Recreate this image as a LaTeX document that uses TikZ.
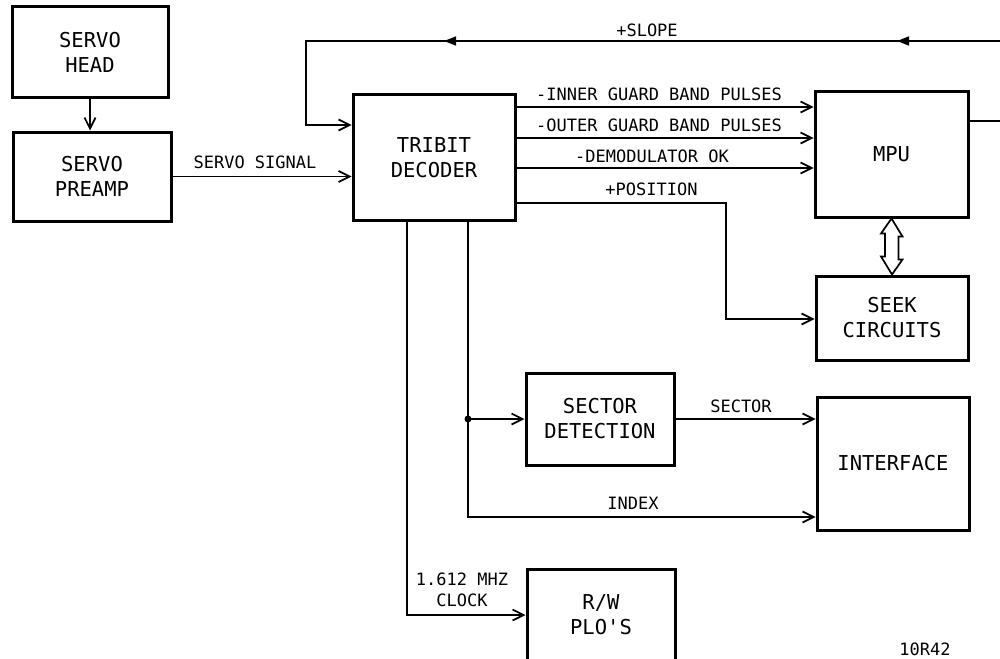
\documentclass[tikz,border=0pt]{standalone}
\usepackage{fontspec}
\setmonofont{DejaVu Sans Mono}
\usetikzlibrary{arrows.meta,decorations.markings,calc}
\newcommand\bxfont{\ttfamily\fontsize{20.5}{25}\selectfont}
\newcommand\lbfont{\ttfamily\fontsize{17}{21}\selectfont}
\begin{document}
\begin{tikzpicture}[x=1pt,y=-1pt,
  box/.style={draw, line width=3pt, align=center, font=\bxfont, inner sep=0pt},
  conn/.style={line width=1.7pt, -{Straight Barb[length=11pt,width=11pt,line width=1.7pt]}},
  plain/.style={line width=1.7pt},
  lbl/.style={font=\lbfont, inner sep=0pt, align=center},
  dbl/.style={line width=1.7pt, fill=white, line join=miter}]
\useasboundingbox (0,0) rectangle (1000,658);
% boxes
\node[box, minimum width=156pt, minimum height=91pt] (head) at (90,52.5) {SERVO\\HEAD};
\node[box, minimum width=158pt, minimum height=89pt] (preamp) at (92,176.5) {SERVO\\PREAMP};
\node[box, minimum width=162pt, minimum height=125pt] (tribit) at (434,157.5) {TRIBIT\\DECODER};
\node[box, minimum width=153pt, minimum height=125pt] (mpu) at (891.5,154.5) {MPU};
\node[box, minimum width=152pt, minimum height=84pt] (seek) at (892,318) {SEEK\\CIRCUITS};
\node[box, minimum width=148pt, minimum height=92pt] (sector) at (600,419) {SECTOR\\DETECTION};
\node[box, minimum width=152pt, minimum height=133pt] (interface) at (893,463.5) {INTERFACE};
\node[box, minimum width=148pt, minimum height=92pt] (rw) at (601,615) {R/W\\PLO'S};
% helper coordinates
\coordinate (y107) at (0,107);
\coordinate (y138) at (0,138);
\coordinate (y168) at (0,168);
\coordinate (y203) at (0,203);
\coordinate (y319) at (0,319);
\coordinate (y125) at (0,125);
\coordinate (y517) at (0,517);
\coordinate (y615) at (0,615);
\coordinate (y121) at (0,121);
\coordinate (posx) at (726,0);
\coordinate (bx1) at (407,0);
\coordinate (bx2) at (468,0);
\coordinate (slopeR) at (1000,41);
\coordinate (loopTL) at (306,41);
\coordinate (mpuR) at (1000,121);
% connectors
\draw[conn] (head.south) -- (head.south |- preamp.north);
\draw[conn] (preamp.east) -- (preamp.east -| tribit.west);
\draw[conn] (tribit.east |- y107) -- (mpu.west |- y107);
\draw[conn] (tribit.east |- y138) -- (mpu.west |- y138);
\draw[conn] (tribit.east |- y168) -- (mpu.west |- y168);
\draw[conn] (tribit.east |- y203) -| (posx |- y319) -- (seek.west |- y319);
\draw[conn, postaction=decorate,
  decoration={markings,
    mark=at position 103pt with {\arrow{Triangle[length=12pt,width=9pt]}},
    mark=at position 556pt with {\arrow{Triangle[length=12pt,width=9pt]}}}]
  (slopeR) -- (loopTL) |- (tribit.west |- y125);
\draw[plain] (mpu.east |- y121) -- (mpuR);
\draw[dbl] (mpu.south) -- ++(11,18) -- ++(-4,0) -- ++(0,23) -- ++(4,0) -- (seek.north)
  -- ++(-11,-18) -- ++(4,0) -- ++(0,-23) -- ++(-4,0) -- cycle;
\draw[conn] (tribit.south -| bx1) |- (rw.west |- y615);
\draw[conn] (tribit.south -| bx2) |- (interface.west |- y517);
\coordinate (junc) at (bx2 |- sector.west);
\fill (junc) circle (3.5pt);
\draw[conn] (junc) -- (sector.west);
\draw[conn] (sector.east) -- (sector.east -| interface.west);
% labels
\node[lbl] (lss) at (255,162.5) {SERVO SIGNAL};
\node[lbl] (lslope) at (647,30) {+SLOPE};
\node[lbl] (linner) at (659,94) {-INNER GUARD BAND PULSES};
\node[lbl] (louter) at (659,125.5) {-OUTER GUARD BAND PULSES};
\node[lbl] (ldemod) at (652,156) {-DEMODULATOR OK};
\node[lbl] (lpos) at (651.5,189) {+POSITION};
\node[lbl] (lsector) at (741,406) {SECTOR};
\node[lbl] (lindex) at (633,503) {INDEX};
\node[lbl] (lclock) at (462,590) {1.612 MHZ\\CLOCK};
\node[lbl] (lfig) at (925,649) {10R42};
\end{tikzpicture}
\end{document}
